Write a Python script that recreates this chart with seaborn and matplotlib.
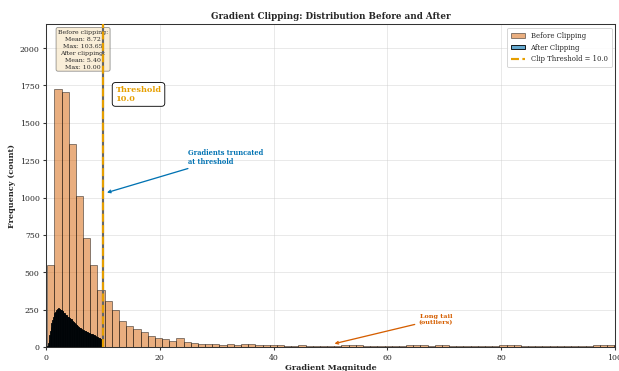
import numpy as np
import pandas as pd
import matplotlib
matplotlib.use("Agg")
import matplotlib.pyplot as plt
import seaborn as sns

# ---- data -------------------------------------------------------------
clip_threshold = 10.0

# Gradient magnitudes before clipping: 82 bins from 0.2 to 103.65
before_range = (0.2, 103.65)
before_counts = [
    547, 1727, 1709, 1358, 1013, 731, 547, 382,
    309, 247, 176, 138, 124, 102, 71, 58, 53, 38, 58, 31, 27, 22,
    20, 18, 16, 18, 16, 20, 18, 16, 16, 15,
    11, 10, 9, 11, 9, 10, 8, 9,
    7, 12, 13, 12, 8, 6, 5, 6, 5, 7,
    12, 13, 12, 6, 13, 12, 5, 4, 5, 4,
    6, 5, 4, 12, 13, 11, 5, 4, 6, 5,
    5, 4, 5, 6, 4, 5, 14, 15, 13, 12, 10, 9,
]

# Gradient magnitudes after clipping: 80 bins from 0.2 to 10.0
after_range = (0.2, 10.0)
after_counts = [
    8, 25, 48, 80, 110, 135, 160, 180, 198, 212, 225, 232,
    241, 247, 252, 255, 258, 254, 256, 249, 245, 240, 238, 231,
    226, 222, 215, 212, 206, 203, 199, 196, 192, 188, 186, 180,
    176, 170, 166, 160, 155, 150, 146, 141, 137, 133, 130, 126,
    124, 121, 117, 115, 112, 108, 106, 104, 101, 98, 96, 94,
    92, 90, 88, 87, 85, 83, 82, 80, 76, 73, 70, 68,
    65, 62, 60, 58, 56, 54, 53, 51,
]

stats_text = ("Before clipping:\nMean: 8.72\nMax: 103.65\n"
              "After clipping:\nMean: 5.40\nMax: 10.00")

x_ticks = [0, 20, 40, 60, 80, 100]
y_ticks = [0, 250, 500, 750, 1000, 1250, 1500, 1750, 2000]

# ---- styling ------------------------------------------------------------
sns.set_theme(style="whitegrid")
plt.rcParams["font.family"] = ["DejaVu Serif"]
plt.rcParams["axes.edgecolor"] = "#333333"
plt.rcParams["xtick.bottom"] = True
plt.rcParams["ytick.left"] = True

c_before = "#D55E00"
c_after = "#0072B2"
c_thresh = "#E69F00"


def hist_frame(counts, lo, hi):
    edges = np.linspace(lo, hi, len(counts) + 1)
    centers = (edges[:-1] + edges[1:]) / 2
    return pd.DataFrame({"x": centers, "w": counts})


df_before = hist_frame(before_counts, *before_range)
df_after = hist_frame(after_counts, *after_range)

fig = plt.figure(figsize=(10, 6), dpi=61.9)
ax = fig.add_axes([0.0745, 0.0645, 0.919, 0.8685])

sns.histplot(data=df_before, x="x", weights="w", bins=len(before_counts),
             binrange=before_range, ax=ax,
             color=c_before, alpha=0.5, edgecolor=(0, 0, 0, 0.5),
             linewidth=1.0, label="Before Clipping")
sns.histplot(data=df_after, x="x", weights="w", bins=len(after_counts),
             binrange=after_range, ax=ax,
             color=c_after, alpha=0.6, edgecolor="black",
             linewidth=1.0, label="After Clipping")

# threshold marker: gray base with orange dashes on top
ax.axvline(clip_threshold, color="#666666", linewidth=2.5, zorder=4)
ax.axvline(clip_threshold, color=c_thresh, linestyle="--", linewidth=2.5,
           zorder=5, label=f"Clip Threshold = {clip_threshold}")

ax.set_xlim(0, 100)
ax.set_ylim(0, 2158)
ax.set_xticks(x_ticks)
ax.set_yticks(y_ticks)
ax.tick_params(axis="both", labelsize=9, length=4, color="#333333")
ax.grid(True, color="#cccccc", alpha=0.6, linewidth=0.8)
for s in ax.spines.values():
    s.set_linewidth(1.2)

ax.set_title("Gradient Clipping: Distribution Before and After",
             fontsize=10.2, fontweight="bold", pad=7)
ax.set_xlabel("Gradient Magnitude", fontsize=9.5, fontweight="bold", labelpad=2)
ax.set_ylabel("Frequency (count)", fontsize=9.5, fontweight="bold")

ax.text(0.065, 0.985, stats_text, transform=ax.transAxes, fontsize=7.3,
        ha="center", va="top", multialignment="center", linespacing=1.5,
        bbox=dict(boxstyle="round,pad=0.3", facecolor="wheat", alpha=0.5,
                  edgecolor="#333333"))

ax.text(12.2, 1690, f"Threshold\n{clip_threshold}", fontsize=9.5,
        fontweight="bold", color=c_thresh, ha="left", va="center",
        bbox=dict(boxstyle="round,pad=0.4", facecolor="white",
                  edgecolor="black"))

ax.annotate("Gradients truncated\nat threshold", xy=(10.4, 1030),
            xytext=(25, 1270), fontsize=7.7, fontweight="bold",
            color=c_after, ha="left", va="center",
            arrowprops=dict(arrowstyle="->", color=c_after, lw=1.5))

ax.annotate("Long tail\n(outliers)", xy=(50.4, 20), xytext=(68.5, 185),
            fontsize=7.5, fontweight="bold", color=c_before,
            ha="center", va="center",
            arrowprops=dict(arrowstyle="->", color=c_before, lw=1.5))

handles, labels = ax.get_legend_handles_labels()
order = [labels.index(n) for n in
         ["Before Clipping", "After Clipping",
          f"Clip Threshold = {clip_threshold}"]]
ax.legend([handles[i] for i in order], [labels[i] for i in order],
          loc="upper right", fontsize=8, frameon=True, framealpha=0.9,
          edgecolor="#cccccc", handlelength=2.0, borderpad=0.6)

fig.savefig("out.png", dpi=61.9)
